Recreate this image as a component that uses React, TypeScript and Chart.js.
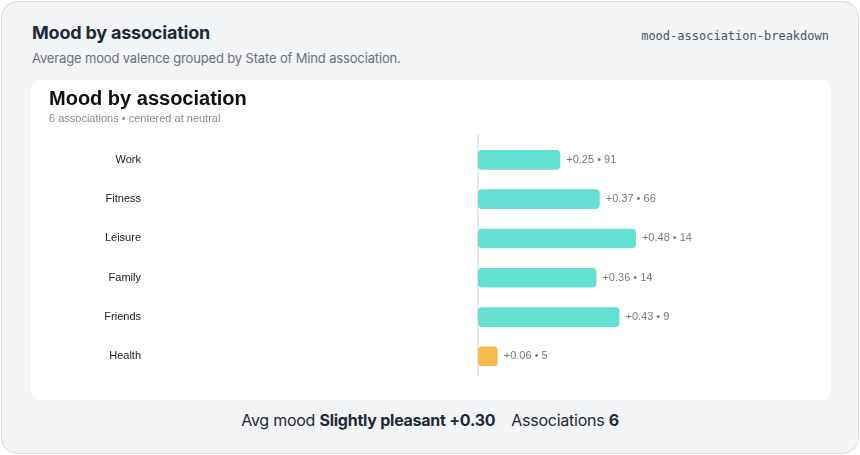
import React, { useEffect, useRef } from "react";
import { Chart, registerables } from "chart.js";

Chart.register(...registerables);

// Associations and their average mood valence (−1 … +1)
const associations = ["Work", "Fitness", "Leisure", "Family", "Friends", "Health"];
const valence = [0.25, 0.37, 0.48, 0.36, 0.43, 0.06];
const sampleCounts = [91, 66, 14, 14, 9, 5];
const barColors = ["#63e0d1", "#63e0d1", "#63e0d1", "#63e0d1", "#63e0d1", "#f7b84c"];
const axisMin = -1;
const axisMax = 1;

const avgLabel = "Slightly pleasant";
const avgValue = 0.3;

const fmt = (v: number) => (v >= 0 ? "+" : "") + v.toFixed(2);

const CHART_FONT = "'Liberation Sans', Arial, Helvetica, sans-serif";
const UI_FONT = "Inter, 'Liberation Sans', Arial, sans-serif";

// Vertical line at neutral (0) plus the value • count annotation after each bar
const neutralAndLabels = {
  id: "neutralAndLabels",
  beforeDatasetsDraw(chart: any) {
    const { ctx, chartArea, scales } = chart;
    const x0 = scales.x.getPixelForValue(0);
    ctx.save();
    ctx.strokeStyle = "#e2e2e2";
    ctx.lineWidth = 1.5;
    ctx.beginPath();
    ctx.moveTo(x0, chartArea.top - 6);
    ctx.lineTo(x0, chartArea.bottom);
    ctx.stroke();
    ctx.restore();
  },
  afterDatasetsDraw(chart: any) {
    const { ctx } = chart;
    const meta = chart.getDatasetMeta(0);
    ctx.save();
    ctx.font = `11px ${CHART_FONT}`;
    ctx.fillStyle = "#7a7a7a";
    ctx.textBaseline = "middle";
    meta.data.forEach((bar: any, i: number) => {
      const v = valence[i];
      const text = `${fmt(v)} • ${sampleCounts[i]}`;
      if (v >= 0) {
        ctx.textAlign = "left";
        ctx.fillText(text, bar.x + 6, bar.y);
      } else {
        ctx.textAlign = "right";
        ctx.fillText(text, bar.x - 6, bar.y);
      }
    });
    ctx.restore();
  },
};

function MoodChart() {
  const ref = useRef<HTMLCanvasElement | null>(null);
  useEffect(() => {
    if (!ref.current) return;
    const chart = new Chart(ref.current, {
      type: "bar",
      data: {
        labels: associations,
        datasets: [
          {
            data: valence,
            backgroundColor: barColors,
            borderRadius: 4,
            borderSkipped: false,
            barPercentage: 0.5,
            categoryPercentage: 1,
          },
        ],
      },
      options: {
        indexAxis: "y",
        animation: false,
        responsive: false,
        maintainAspectRatio: false,
        layout: { padding: { left: 18, right: 24, top: 7, bottom: 24 } },
        plugins: {
          legend: { display: false },
          tooltip: { enabled: false },
          title: {
            display: true,
            text: "Mood by association",
            align: "start",
            color: "#111111",
            font: { family: CHART_FONT, size: 20, weight: "bold" },
            padding: { top: 0, bottom: 1 },
          },
          subtitle: {
            display: true,
            text: "6 associations • centered at neutral",
            align: "start",
            color: "#8a8a8a",
            font: { family: CHART_FONT, size: 11 },
            padding: { top: 0, bottom: 15 },
          },
        },
        scales: {
          x: {
            min: axisMin,
            max: axisMax,
            display: false,
            grid: { display: false },
          },
          y: {
            grid: { display: false, drawTicks: false },
            border: { display: false },
            ticks: {
              color: "#222222",
              padding: 8,
              font: { family: CHART_FONT, size: 11 },
            },
            afterFit(axis: any) {
              axis.width = 100;
            },
          },
        },
      },
      plugins: [neutralAndLabels],
    } as any);
    return () => chart.destroy();
  }, []);
  return <canvas ref={ref} width={800} height={320} style={{ display: "block" }} />;
}

export default function App() {
  return (
    <div
      style={{
        position: "absolute",
        left: 1,
        top: 1,
        width: 856,
        height: 451,
        boxSizing: "content-box",
        background: "#f3f4f6",
        border: "1px solid #d9dbde",
        borderRadius: 16,
        fontFamily: UI_FONT,
      }}
    >
      <div
        style={{
          position: "absolute",
          left: 30,
          top: 20,
          fontSize: 18,
          fontWeight: 700,
          color: "#1f2937",
          lineHeight: "22px",
          letterSpacing: -0.2,
        }}
      >
        Mood by association
      </div>
      <div
        style={{
          position: "absolute",
          right: 29,
          top: 26,
          fontSize: 12,
          fontFamily: "'DejaVu Sans Mono', monospace",
          color: "#4b5563",
          lineHeight: "16px",
        }}
      >
        mood-association-breakdown
      </div>
      <div
        style={{
          position: "absolute",
          left: 30,
          top: 48,
          fontSize: 13,
          color: "#6b7280",
          lineHeight: "16px",
          letterSpacing: -0.15,
        }}
      >
        Average mood valence grouped by State of Mind association.
      </div>
      <div
        style={{
          position: "absolute",
          left: 29,
          top: 78,
          width: 800,
          height: 320,
          background: "#ffffff",
          borderRadius: 8,
          overflow: "hidden",
        }}
      >
        <MoodChart />
      </div>
      <div
        style={{
          position: "absolute",
          left: 0,
          right: 0,
          top: 408,
          textAlign: "center",
          fontSize: 16,
          color: "#1f2937",
          lineHeight: "20px",
          letterSpacing: -0.25,
        }}
      >
        Avg mood <b>{avgLabel} {fmt(avgValue)}</b>
        <span style={{ display: "inline-block", width: 16 }} />
        Associations <b>{associations.length}</b>
      </div>
    </div>
  );
}
